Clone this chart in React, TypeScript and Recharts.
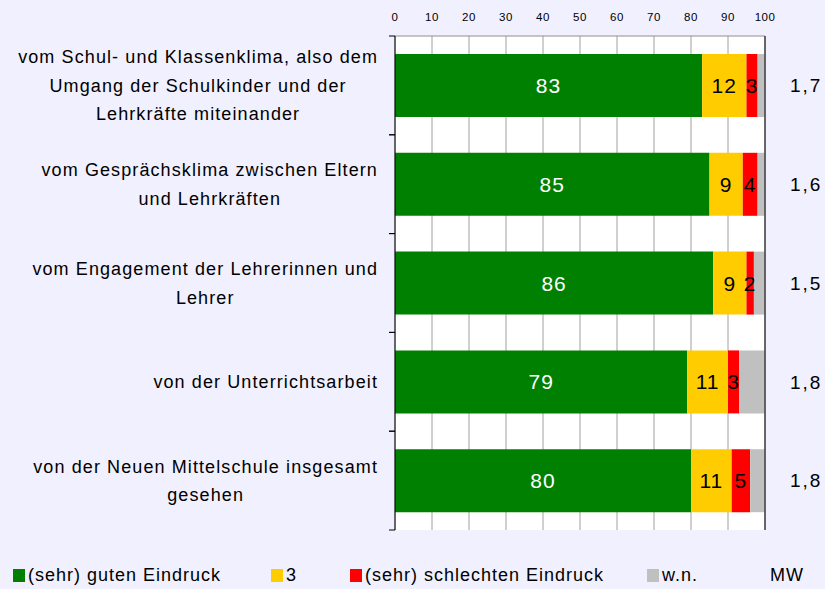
import {
  BarChart,
  Bar,
  XAxis,
  YAxis,
  CartesianGrid,
  LabelList,
} from "recharts";

const categories = [
  "vom Schul- und Klassenklima, also dem|Umgang der Schulkinder und der|Lehrkräfte miteinander",
  "vom Gesprächsklima zwischen Eltern|und Lehrkräften",
  "vom Engagement der Lehrerinnen und|Lehrer",
  "von der Unterrichtsarbeit",
  "von der Neuen Mittelschule insgesamt|gesehen",
];
const good = [83, 85, 86, 79, 80];
const neutral = [12, 9, 9, 11, 11];
const bad = [3, 4, 2, 3, 5];
const unknown = [2, 2, 3, 7, 4];
const mw = ["1,7", "1,6", "1,5", "1,8", "1,8"];
const xTicks = [0, 10, 20, 30, 40, 50, 60, 70, 80, 90, 100];

const series = [
  { key: "good", name: "(sehr) guten Eindruck", color: "#008000", text: "#ffffff", labelled: true },
  { key: "neutral", name: "3", color: "#FFCC00", text: "#000000", labelled: true },
  { key: "bad", name: "(sehr) schlechten Eindruck", color: "#FF0000", text: "#000000", labelled: true },
  { key: "unknown", name: "w.n.", color: "#C0C0C0", text: "#000000", labelled: false },
];

const data = categories.map((name, i) => ({
  name,
  good: good[i],
  neutral: neutral[i],
  bad: bad[i],
  unknown: unknown[i],
}));

const FONT = "'Liberation Sans', Arial, sans-serif";
const CAT_SIZE = 18;
const CAT_SPACING = 1.1;
const CAT_MARGIN = 17;

let ctx: CanvasRenderingContext2D | null = null;
function measure(s: string) {
  if (!ctx) ctx = document.createElement("canvas").getContext("2d");
  if (!ctx) return s.length * CAT_SIZE * 0.5;
  ctx.font = `${CAT_SIZE}px 'Liberation Sans'`;
  return ctx.measureText(s).width + s.length * CAT_SPACING;
}

// multi-line label, lines centred on each other, block right-aligned to the axis
const CategoryTick = (props: any) => {
  const { x, y, payload } = props;
  const lines = String(payload.value).split("|");
  const lh = 28.5;
  const start = y - ((lines.length - 1) * lh) / 2;
  const maxW = Math.max(...lines.map(measure));
  const cx = x - maxW / 2;
  const edge = x + CAT_MARGIN;
  const half = payload.offset ?? 49;
  return (
    <g>
      <line x1={edge - 6} x2={edge} y1={y - half} y2={y - half} stroke="#000" />
      <line x1={edge - 6} x2={edge} y1={y + half} y2={y + half} stroke="#000" />
      <text
        x={cx}
        y={start}
        textAnchor="middle"
        fontSize={CAT_SIZE}
        fontFamily={FONT}
        letterSpacing={CAT_SPACING}
        fill="#000"
      >
        {lines.map((l, i) => (
          <tspan key={i} x={cx} y={start + i * lh} dy="0.35em">
            {l}
          </tspan>
        ))}
      </text>
    </g>
  );
};

const legendPos = [13, 271, 350, 647];

export default function App() {
  return (
    <div
      style={{
        position: "absolute",
        left: 0,
        top: 0,
        width: 825,
        height: 589,
        background: "#F0F0FF",
        fontFamily: FONT,
      }}
    >
      <BarChart
        width={825}
        height={589}
        data={data}
        layout="vertical"
        barSize={63}
        margin={{ top: 0, right: 0, bottom: 59, left: 0 }}
      >
        <CartesianGrid
          xAxisId="top"
          yAxisId="cat"
          horizontal={false}
          stroke="#a0a0a0"
          fill="#ffffff"
          fillOpacity={1}
        />
        <XAxis
          xAxisId="top"
          orientation="top"
          type="number"
          domain={[0, 100]}
          ticks={xTicks}
          axisLine={{ stroke: "#909090" }}
          tickLine={false}
          tickSize={0}
          tickMargin={15}
          height={36}
          tick={{ fontSize: 11.5, fill: "#000", fontFamily: FONT, letterSpacing: 0.5 }}
          interval={0}
        />
        <XAxis
          xAxisId="bottom"
          orientation="bottom"
          type="number"
          domain={[0, 100]}
          axisLine={{ stroke: "#909090" }}
          tick={false}
          tickLine={false}
          height={0}
        />
        <YAxis
          yAxisId="cat"
          orientation="left"
          type="category"
          dataKey="name"
          width={395}
          axisLine={{ stroke: "#000" }}
          tickLine={false}
          tickSize={0}
          tickMargin={CAT_MARGIN}
          tick={<CategoryTick />}
          interval={0}
        />
        <YAxis
          yAxisId="mw"
          orientation="right"
          type="category"
          dataKey="name"
          width={60}
          axisLine={{ stroke: "#000" }}
          tickLine={false}
          tickSize={0}
          tickMargin={25}
          tickFormatter={(_v: any, i: number) => mw[i]}
          tick={{ fontSize: 19, fill: "#000", fontFamily: FONT, letterSpacing: 2 }}
          interval={0}
        />
        {series.map((s) => (
          <Bar
            key={s.key}
            dataKey={s.key}
            name={s.name}
            stackId="a"
            xAxisId="top"
            yAxisId="cat"
            fill={s.color}
            isAnimationActive={false}
          >
            {s.labelled && (
              <LabelList
                dataKey={s.key}
                position="center"
                fill={s.text}
                fontSize={21}
                fontFamily={FONT}
                letterSpacing={1}
              />
            )}
          </Bar>
        ))}
      </BarChart>
      {series.map((s, i) => (
        <div
          key={s.key}
          style={{
            position: "absolute",
            left: legendPos[i],
            top: 565,
            display: "flex",
            alignItems: "center",
            fontSize: 18,
            letterSpacing: 1,
            color: "#000",
          }}
        >
          <span
            style={{
              display: "inline-block",
              width: 12,
              height: 13,
              background: s.color,
              marginRight: 3,
            }}
          />
          {s.name}
        </div>
      ))}
      <div
        style={{ position: "absolute", left: 770, top: 565, fontSize: 18, letterSpacing: 1 }}
      >
        MW
      </div>
    </div>
  );
}
